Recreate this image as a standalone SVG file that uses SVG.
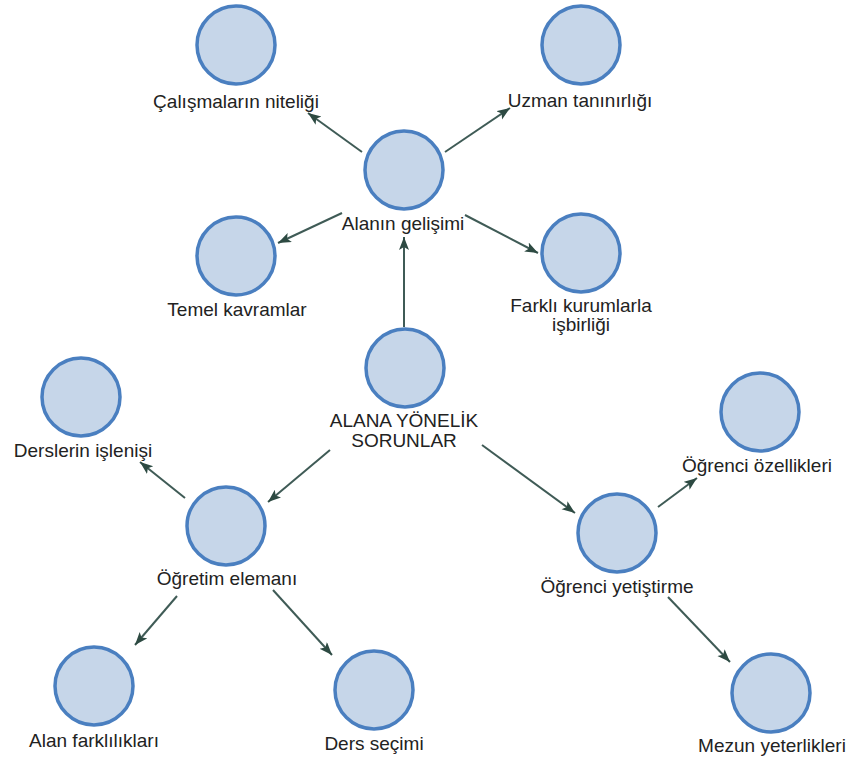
<svg xmlns="http://www.w3.org/2000/svg" width="848" height="758" viewBox="0 0 848 758">
<style>
.n{fill:#c6d6e9;stroke:#4a7fc0;stroke-width:3.5}
.t{font-family:"Liberation Sans",Arial,sans-serif;font-size:19px;fill:#222;text-anchor:middle}
.c{stroke:#3f5b56;stroke-width:2;fill:none;marker-end:url(#ah)}
</style>
<defs>
<marker id="ah" markerUnits="userSpaceOnUse" markerWidth="14" markerHeight="12" refX="13" refY="5" orient="auto">
<path d="M0,0 L13,5 L0,10 L3,5 z" fill="#2d4a42"/>
</marker>
</defs>
<rect width="848" height="758" fill="#fff"/>
<g id="connectors">
<line class="c" x1="362" y1="152" x2="308" y2="113"/>
<line class="c" x1="445" y1="152" x2="510" y2="108"/>
<line class="c" x1="342" y1="213" x2="278" y2="243"/>
<line class="c" x1="465" y1="215" x2="538" y2="253"/>
<line class="c" x1="404" y1="327" x2="404" y2="237"/>
<line class="c" x1="330" y1="450" x2="268" y2="502"/>
<line class="c" x1="482" y1="445" x2="575" y2="513"/>
<line class="c" x1="185" y1="498" x2="140" y2="462"/>
<line class="c" x1="177" y1="596" x2="135" y2="645"/>
<line class="c" x1="273" y1="590" x2="332" y2="655"/>
<line class="c" x1="658" y1="507" x2="697" y2="478"/>
<line class="c" x1="668" y1="597" x2="730" y2="662"/>
</g>
<g id="n-calismalar"><circle class="n" cx="236" cy="45" r="39"/><text class="t" x="236" y="108">Çalışmaların niteliği</text></g>
<g id="n-uzman"><circle class="n" cx="581" cy="45" r="39"/><text class="t" x="580" y="107">Uzman tanınırlığı</text></g>
<g id="n-alanin"><circle class="n" cx="404" cy="170" r="39"/><text class="t" x="403" y="230">Alanın gelişimi</text></g>
<g id="n-temel"><circle class="n" cx="236" cy="256" r="39"/><text class="t" x="237" y="316">Temel kavramlar</text></g>
<g id="n-farkli"><circle class="n" cx="581" cy="253" r="39"/><text class="t" x="581" y="312">Farklı kurumlarla</text><text class="t" x="581" y="331">işbirliği</text></g>
<g id="n-alana"><circle class="n" cx="405" cy="368" r="39"/><text class="t" x="404" y="427">ALANA YÖNELİK</text><text class="t" x="404" y="447">SORUNLAR</text></g>
<g id="n-dersler"><circle class="n" cx="81" cy="397" r="39"/><text class="t" x="83" y="457">Derslerin işlenişi</text></g>
<g id="n-ogrenci-oz"><circle class="n" cx="760" cy="412" r="39"/><text class="t" x="757" y="472">Öğrenci özellikleri</text></g>
<g id="n-ogretim"><circle class="n" cx="226" cy="526" r="39"/><text class="t" x="227" y="585">Öğretim elemanı</text></g>
<g id="n-ogrenci-yet"><circle class="n" cx="617" cy="533" r="39"/><text class="t" x="617" y="593">Öğrenci yetiştirme</text></g>
<g id="n-alan-fark"><circle class="n" cx="94" cy="686" r="39"/><text class="t" x="94" y="747">Alan farklılıkları</text></g>
<g id="n-ders-secimi"><circle class="n" cx="374" cy="690" r="39"/><text class="t" x="374" y="750">Ders seçimi</text></g>
<g id="n-mezun"><circle class="n" cx="771" cy="693" r="39"/><text class="t" x="772" y="752">Mezun yeterlikleri</text></g>
</svg>
